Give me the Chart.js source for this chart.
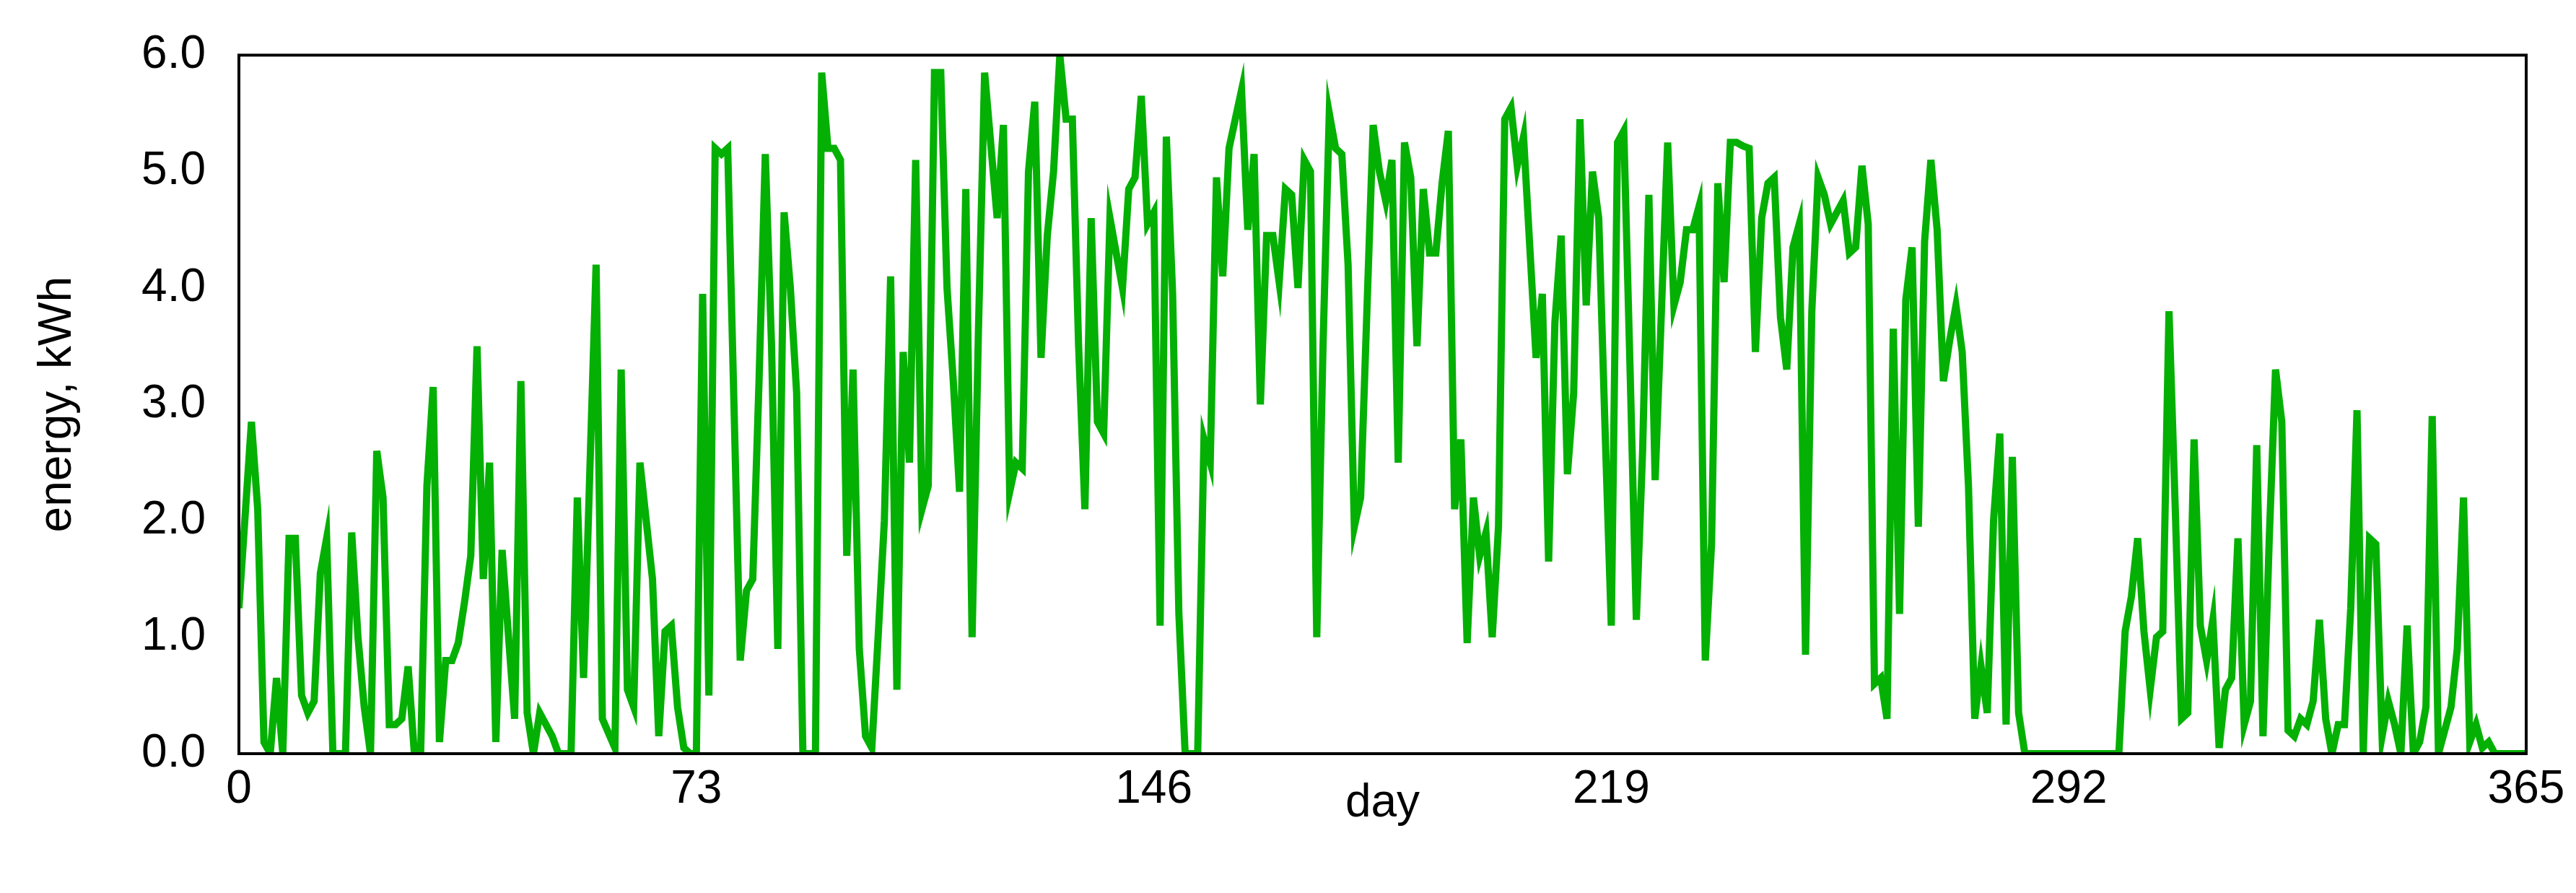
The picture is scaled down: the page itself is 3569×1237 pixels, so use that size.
<!DOCTYPE html>
<html>
<head>
<meta charset="utf-8">
<script src="https://cdn.jsdelivr.net/npm/chart.js@4"></script>
<style>
  html, body { margin: 0; padding: 0; background: #fff; }
  canvas { display: block; }
</style>
</head>
<body>
<canvas id="chart" width="3569" height="1237"></canvas>
<script>
// day of year and daily energy (kWh)
const days = [
  0,2,3,4,5,6,7,8,9,10,11,12,13,14,15,16,17,18,19,20,21,22,23,24,25,26,27,28,29,30,
  31,32,33,34,35,36,37,38,39,40,41,42,44,45,46,47,48,50,51,52,53,54,55,57,58,60,61,62,63,64,
  66,67,68,69,70,71,72,73,74,75,76,77,78,79,80,81,82,83,84,85,86,87,88,89,90,91,92,93,94,95,
  96,97,98,99,100,101,102,103,104,105,106,107,108,109,110,111,112,113,114,115,116,117,118,119,121,122,123,124,125,126,
  127,128,129,130,131,132,133,134,135,136,137,138,139,140,141,142,143,144,145,146,147,148,149,150,151,152,153,154,155,156,
  157,158,159,160,161,162,163,164,165,166,167,168,169,170,171,172,173,174,175,176,177,178,179,180,181,182,183,184,185,186,
  187,188,189,190,191,192,193,194,195,196,197,198,199,200,201,202,203,204,205,206,207,208,209,210,211,212,213,214,215,216,
  217,218,219,220,221,222,223,224,225,226,227,228,229,230,231,232,233,234,235,236,237,238,239,240,241,242,243,244,245,246,
  247,248,249,250,251,252,253,254,255,256,257,258,259,260,261,262,263,264,265,266,267,268,269,270,271,272,273,274,275,276,
  277,278,279,280,281,282,283,284,285,300,301,302,303,304,305,306,307,308,309,310,311,312,313,314,315,316,317,318,319,320,
  321,322,323,324,325,326,327,328,329,330,331,332,333,334,335,336,337,338,339,340,341,342,343,344,345,346,347,348,349,350,
  351,352,353,354,355,356,357,358,359,360,365
];
const energy = [
  1.25,2.85,2.1,0.1,0,0.65,0,1.85,1.85,0.5,0.35,0.45,1.55,1.85,0,0,0,1.9,1.0,0.4,0,2.6,2.2,0.25,0.25,0.3,0.75,0,0,2.3,
  3.15,0.1,0.8,0.8,0.95,1.3,1.7,3.5,1.5,2.5,0.1,1.75,0.3,3.2,0.35,0,0.35,0.15,0,0,0,2.2,0.65,4.2,0.3,0.05,3.3,0.55,0.4,2.5,
  1.5,0.15,1.05,1.1,0.4,0.05,0,0,3.95,0.5,5.2,5.15,5.2,3.0,0.8,1.4,1.5,3.2,5.15,3.5,0.9,4.65,4.0,3.1,0,0,0,5.85,5.2,5.2,
  5.1,1.7,3.3,0.9,0.15,0.05,1.0,2.0,4.1,0.55,3.45,2.5,5.1,2.1,2.3,5.85,5.85,4.0,3.2,2.25,4.85,1.0,3.6,5.85,4.6,5.4,2.25,2.5,2.45,5.0,
  5.6,3.4,4.45,5.0,6.0,5.45,5.45,3.5,2.1,4.6,2.85,2.75,4.6,4.3,4.0,4.85,4.95,5.65,4.55,4.65,1.1,5.3,3.95,1.2,0,0,0,2.7,2.5,4.95,
  4.1,5.2,5.45,5.7,4.5,5.15,3.0,4.45,4.45,4.05,4.85,4.8,4.0,5.1,5.0,1.0,3.5,5.5,5.2,5.15,4.2,1.95,2.2,3.8,5.4,5.0,4.75,5.1,2.5,5.25,
  4.95,3.5,4.85,4.3,4.3,4.9,5.35,2.1,2.7,0.95,2.2,1.7,1.9,1.0,1.95,5.45,5.55,5.05,5.3,4.35,3.4,3.95,1.65,3.7,4.45,2.4,3.1,5.45,3.85,5.0,
  4.6,2.8,1.1,5.25,5.35,3.3,1.15,2.6,4.8,2.35,3.8,5.25,3.85,4.05,4.5,4.5,4.7,0.8,1.8,4.9,4.05,5.25,5.25,5.22,5.2,3.45,4.6,4.9,4.95,3.75,
  3.3,4.35,4.55,0.85,3.8,4.95,4.8,4.55,4.65,4.75,4.3,4.35,5.05,4.55,0.6,0.65,0.3,3.65,1.2,3.9,4.35,1.95,4.4,5.1,4.5,3.2,3.55,3.85,3.45,2.3,
  0.3,0.75,0.35,2.0,2.75,0.25,2.55,0.35,0,0,1.05,1.35,1.85,1.05,0.55,1.0,1.05,3.8,2.1,0.3,0.35,2.7,1.1,0.8,1.15,0.05,0.55,0.65,1.85,0.25,
  0.45,2.65,0.15,1.85,3.3,2.85,0.2,0.15,0.3,0.25,0.45,1.15,0.3,0,0.25,0.25,1.25,2.95,0,1.85,1.8,0.15,0.45,0.25,0,1.1,0,0.1,0.4,2.9,
  0,0.2,0.4,0.9,2.2,0.1,0.25,0.05,0.1,0,0
];
const xTicks = [0, 73, 146, 219, 292, 365];

const font = "'Liberation Sans', Arial, sans-serif";

// frame + axis titles
const framePlugin = {
  id: "frame",
  afterDraw(chart) {
    const { ctx, chartArea: a } = chart;
    ctx.save();
    ctx.strokeStyle = "#000";
    ctx.lineWidth = 4;
    ctx.strokeRect(a.left, a.top, a.right - a.left, a.bottom - a.top);
    ctx.fillStyle = "#000";
    ctx.font = "64px " + font;
    ctx.textAlign = "center";
    ctx.textBaseline = "middle";
    ctx.fillText("day", (a.left + a.right) / 2, 1113);
    ctx.translate(80, (a.top + a.bottom) / 2);
    ctx.rotate(-Math.PI / 2);
    ctx.fillText("energy, kWh", 0, 0);
    ctx.restore();
  }
};

new Chart(document.getElementById("chart"), {
  type: "line",
  data: {
    datasets: [{
      data: days.map((d, i) => ({ x: d, y: energy[i] })),
      borderColor: "#04b004",
      borderWidth: 10,
      pointRadius: 0,
      tension: 0,
      fill: false
    }]
  },
  options: {
    responsive: false,
    animation: false,
    devicePixelRatio: 1,
    layout: { padding: { top: 50, right: 69, left: 0, bottom: 0 } },
    plugins: { legend: { display: false }, tooltip: { enabled: false } },
    scales: {
      x: {
        type: "linear",
        min: 0, max: 365,
        afterBuildTicks: s => { s.ticks = xTicks.map(v => ({ value: v })); },
        afterFit: s => { s.height = 193; },
        grid: { display: false },
        border: { display: false },
        ticks: { color: "#000", font: { size: 64, family: font }, padding: 4, maxRotation: 0 }
      },
      y: {
        min: 0, max: 6,
        afterFit: s => { s.width = 331; },
        grid: { display: false },
        border: { display: false },
        ticks: {
          stepSize: 1, color: "#000", padding: 38,
          font: { size: 64, family: font },
          callback: v => v.toFixed(1)
        }
      }
    }
  },
  plugins: [framePlugin]
});
</script>
</body>
</html>
